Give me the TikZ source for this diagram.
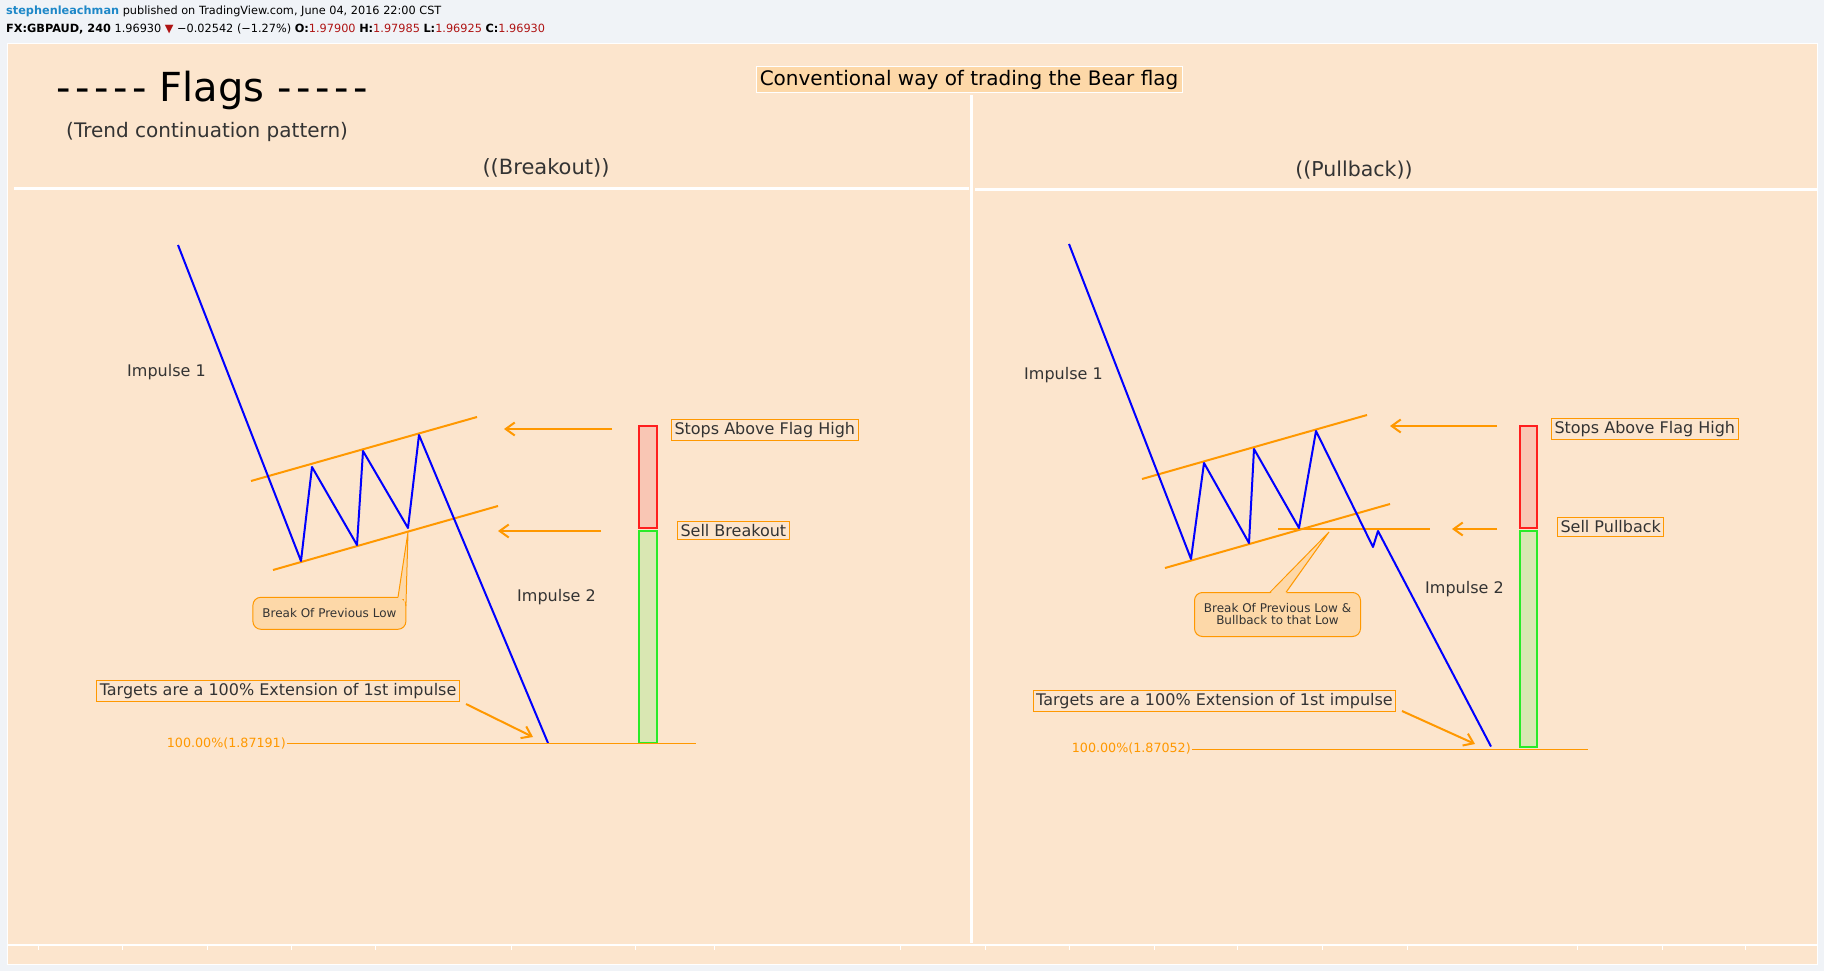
\documentclass[tikz,border=0pt]{standalone}
\usepackage{fontspec}
\newfontfamily\tvf{DejaVu Sans}
\usetikzlibrary{arrows.meta,calc}
\definecolor{pagebg}{RGB}{240,243,247}
\definecolor{peach}{RGB}{252,229,205}
\definecolor{lorange}{RGB}{253,216,168}
\definecolor{tvorange}{RGB}{255,152,0}
\definecolor{tvblue}{RGB}{0,0,255}
\definecolor{txt}{RGB}{51,51,51}
\definecolor{hdrblue}{RGB}{30,136,200}
\definecolor{darkred}{RGB}{175,20,20}
\definecolor{redfill}{RGB}{249,198,180}
\definecolor{greenfill}{RGB}{217,231,178}
\definecolor{redline}{RGB}{255,30,30}
\definecolor{greenline}{RGB}{40,235,40}
\begin{document}
\begin{tikzpicture}[x=1pt,y=-1pt,
  fs/.style={font=\tvf\fontsize{#1}{#1}\selectfont},
  wave/.style={tvblue, line width=2pt, line join=round},
  flagline/.style={tvorange, line width=2pt},
  pointer/.style={tvorange, line width=2pt, -{Straight Barb[length=9pt,width=13pt]}},
  lbl/.style={text=txt, fs=16, inner sep=0pt},
  obox/.style={lbl, draw=tvorange, line width=1pt, inner xsep=3pt, inner ysep=3pt},
  callout/.style={draw=tvorange, fill=lorange, rounded corners=8pt, line width=1pt, text=txt, fs=12, align=center},
  fiblbl/.style={text=tvorange, fs=12.7, anchor=east, inner sep=1pt},
  riskbox/.style={draw=redline, fill=redfill, line width=2pt},
  rewardbox/.style={draw=greenline, fill=greenfill, line width=2pt},
  divider/.style={white, line width=3pt}
]
\useasboundingbox (0,0) rectangle (1824,971);
\fill[pagebg] (0,0) rectangle (1824,971);
\fill[peach, draw=white, line width=1pt] (7,44) rectangle (1817,964);
% dividers
\draw[divider] (971,95) -- (971,943);
\draw[divider] (14,188.5) -- (969,188.5);
\draw[divider] (975,190) -- (1817,190);
\draw[white, line width=2pt] (7,945) -- (1817,945);
\foreach \tx in {38,122,207,291,375,511,635,714,900,985,1069,1154,1237,1322,1407,1577,1662,1745}
  \draw[white, line width=0.8pt] (\tx,946) -- (\tx,950);

% header
\node[anchor=west, fs=11.3, inner sep=0pt] (hdr1) at (6,11)
  {\textcolor{hdrblue}{\textbf{stephenleachman}} published on TradingView.com, June 04, 2016 22:00 CST};
\node[anchor=west, fs=11.3, inner sep=0pt] (hdr2) at (6,29)
  {\textbf{FX:GBPAUD, 240} 1.96930 \textcolor{darkred}{▼} −0.02542 (−1.27\%) \textbf{O:}\textcolor{darkred}{1.97900} \textbf{H:}\textcolor{darkred}{1.97985} \textbf{L:}\textcolor{darkred}{1.96925} \textbf{C:}\textcolor{darkred}{1.96930}};

% titles
\node[anchor=west, fs=40, inner sep=0pt] (title) at (56,90.5)
  {-\kern4.6pt-\kern4.6pt-\kern4.6pt-\kern4.6pt- Flags -\kern4.6pt-\kern4.6pt-\kern4.6pt-\kern4.6pt-};
\node[anchor=west, fs=20, text=txt, inner sep=0pt] (subtitle) at (66,132) {(Trend continuation pattern)};
\node[fs=20, fill=lorange, draw=white, line width=1pt, minimum width=426pt, minimum height=26pt, inner sep=0pt] (conv) at (969,79.5) {Conventional way of trading the Bear flag};
\node[fs=21, text=txt, inner sep=0pt] (breakout) at (546,168) {((Breakout))};
\node[fs=20.5, text=txt, inner sep=0pt] (pullback) at (1354,170.5) {((Pullback))};

% ---------------- LEFT PANEL ----------------
\coordinate (L0) at (178,245);
\coordinate (L1) at (301,561);
\coordinate (L2) at (312,467);
\coordinate (L3) at (357,545);
\coordinate (L4) at (363,451);
\coordinate (L5) at (408,528);
\coordinate (L6) at (419,435);
\coordinate (L7) at (548,743);
\coordinate (LuA) at (251,481); \coordinate (LuB) at (477,417);
\coordinate (LlA) at (273,570); \coordinate (LlB) at (498,506);
\draw[flagline] (LuA) -- (LuB);
\draw[flagline] (LlA) -- (LlB);
\draw[wave] (L0) -- (L1) -- (L2) -- (L3) -- (L4) -- (L5) -- (L6) -- (L7);

\coordinate (LsA) at (612,429); \coordinate (LsB) at (504,429);
\coordinate (LbA) at (601,531); \coordinate (LbB) at (498,531);
\draw[pointer] (LsA) -- (LsB);
\draw[pointer] (LbA) -- (LbB);

\draw[rewardbox] (639,531) rectangle (657,743);
\draw[riskbox] (639,426) rectangle (657,528);

\node[obox, anchor=west] (lstop) at (671,430) {Stops Above Flag High};
\node[obox, anchor=west] (lsell) at (677,530.5) {Sell Breakout};
\node[lbl, anchor=west] (limp1) at (127,372) {Impulse 1};
\node[lbl, anchor=west] (limp2) at (517,597) {Impulse 2};

\node[callout, minimum width=153pt, minimum height=32pt, inner sep=0pt] (lcall) at (329.4,613.3) {Break Of Previous Low};
\coordinate (LcA) at (398,597.3); \coordinate (LcB) at (405.9,606); \coordinate (LcT) at (408,532);
\fill[lorange] ($(LcA)+(0,1.5)$) -- (LcT) -- ($(LcB)+(-1,1.5)$) -- (404,599) -- cycle;
\draw[tvorange, line width=1pt] (LcA) -- (LcT) -- (LcB);

\node[obox, anchor=west] (ltgt) at (96.3,691) {Targets are a 100\% Extension of 1st impulse};
\coordinate (LtA) at (466,704); \coordinate (LtB) at (533,737);
\draw[pointer] (LtA) -- (LtB);
\coordinate (LfA) at (287,743.5); \coordinate (LfB) at (696,743.5);
\draw[tvorange, line width=1pt] (LfA) -- (LfB);
\node[fiblbl] (lfib) at (LfA) {100.00\%(1.87191)};

% ---------------- RIGHT PANEL ----------------
\coordinate (R0) at (1069,244);
\coordinate (R1) at (1191,559);
\coordinate (R2) at (1204,463);
\coordinate (R3) at (1249,543);
\coordinate (R4) at (1254,449);
\coordinate (R5) at (1299,528);
\coordinate (R6) at (1316,431);
\coordinate (R7) at (1373,547);
\coordinate (R8) at (1378,531);
\coordinate (R9) at (1491,746.5);
\coordinate (RuA) at (1142,479); \coordinate (RuB) at (1367,415);
\coordinate (RlA) at (1165,568); \coordinate (RlB) at (1390,504);
\coordinate (RhA) at (1278,528.5); \coordinate (RhB) at (1430,528.5);
\draw[flagline] (RuA) -- (RuB);
\draw[flagline] (RlA) -- (RlB);
\draw[flagline] (RhA) -- (RhB);
\draw[wave] (R0) -- (R1) -- (R2) -- (R3) -- (R4) -- (R5) -- (R6) -- (R7) -- (R8) -- (R9);

\coordinate (RsA) at (1497,426); \coordinate (RsB) at (1390,426);
\coordinate (RbA) at (1497,529); \coordinate (RbB) at (1452,529);
\draw[pointer] (RsA) -- (RsB);
\draw[pointer] (RbA) -- (RbB);

\draw[rewardbox] (1520,531) rectangle (1537,747);
\draw[riskbox] (1520,426) rectangle (1537,528);

\node[obox, anchor=west] (rstop) at (1551,429) {Stops Above Flag High};
\node[obox, anchor=west] (rsell) at (1557,527) {Sell Pullback};
\node[lbl, anchor=west] (rimp1) at (1024,375.5) {Impulse 1};
\node[lbl, anchor=west] (rimp2) at (1425,589) {Impulse 2};

\node[callout, minimum width=166pt, minimum height=44pt, inner sep=0pt] (rcall) at (1277.5,614.5) {Break Of Previous Low \&\\Bullback to that Low};
\coordinate (RcA) at (1270,592.3); \coordinate (RcB) at (1286,592.3); \coordinate (RcT) at (1329,532);
\fill[lorange] ($(RcA)+(0,1.5)$) -- (RcT) -- ($(RcB)+(0,1.5)$) -- cycle;
\draw[tvorange, line width=1pt] (RcA) -- (RcT) -- (RcB);

\node[obox, anchor=west] (rtgt) at (1032.7,701) {Targets are a 100\% Extension of 1st impulse};
\coordinate (RtA) at (1402,711); \coordinate (RtB) at (1475,744);
\draw[pointer] (RtA) -- (RtB);
\coordinate (RfA) at (1192,749); \coordinate (RfB) at (1588,749);
\draw[tvorange, line width=1pt] (RfA) -- (RfB);
\node[fiblbl] (rfib) at (RfA) {100.00\%(1.87052)};
\end{tikzpicture}
\end{document}
